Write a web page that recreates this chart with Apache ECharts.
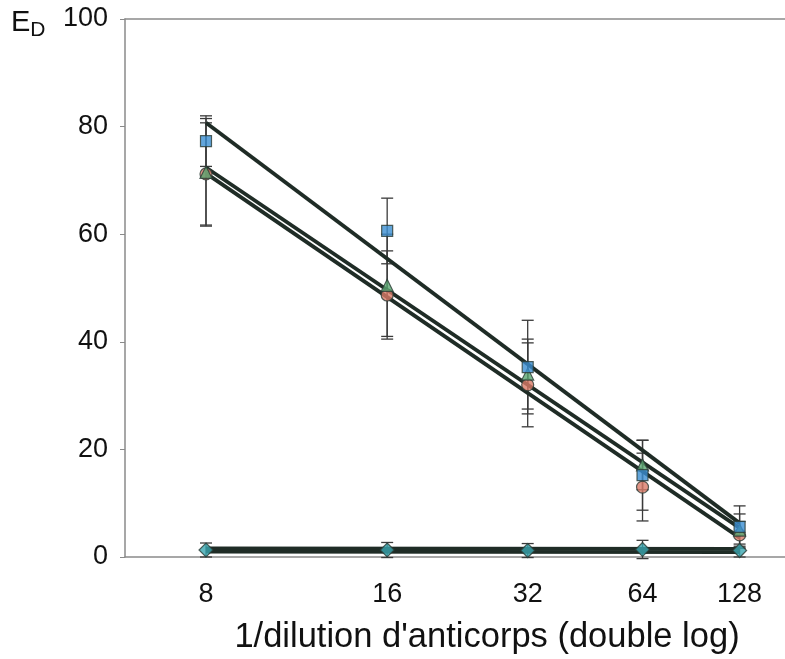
<!DOCTYPE html>
<html>
<head>
<meta charset="utf-8">
<script src="https://cdn.jsdelivr.net/npm/echarts@6/dist/echarts.min.js"></script>
<style>html,body{margin:0;padding:0;background:#fff}#c{width:785px;height:659px}</style>
</head>
<body>
<div id="c"></div>
<script>
// ---- data ----
const dilutions = [8, 16, 32, 64, 128];
const yTicks = [0, 20, 40, 60, 80, 100];

const blueVals  = [77.3, 60.6, 35.3, 15.2, 5.6];
const blueErr   = [4.7, 6.1, 8.7, 6.5, 3.9];
const greenVals = [71.5, 50.5, 34.0, 17.1, 5.0];
const greenErr  = [10.0, 9.5, 6.5, 4.6, 3.0];
const redVals   = [71.2, 48.7, 32.0, 13.0, 4.1];
const redErr    = [9.5, 8.2, 7.8, 6.3, 2.5];
const tealVals  = [1.3, 1.3, 1.2, 1.4, 1.2];
const tealErr   = [1.3, 1.4, 1.3, 1.7, 1.2];

// regression lines: values at 8 and at 128
const fitEnds   = [8, 128];
const fitBlue   = [80.7, 6.3];
const fitGreen  = [72.4, 5.4];
const fitRed    = [71.3, 3.6];
const fitTealA  = [1.6, 1.5];
const fitTealB  = [1.0, 0.9];

const xMin = 0.97, xMax = 2.018;
// ---------------------------------------

const tx = v => Math.log(Math.log2(v));
const pts = vals => dilutions.map((d, i) => [tx(d), vals[i]]);
const errPts = (vals, err) => dilutions.map((d, i) => [tx(d), vals[i], err[i]]);
const fitPts = vals => fitEnds.map((d, i) => [tx(d), vals[i]]);

const FONT = 'Liberation Sans';
const axisGrey = '#8a8a8a';
const lineCol = '#1f2c26';

function errSeries(vals, err) {
  return {
    type: 'custom',
    data: errPts(vals, err),
    clip: false,
    z: 2,
    renderItem: function (params, api) {
      const x = api.value(0), y = api.value(1), e = api.value(2);
      const t = api.coord([x, y + e]);
      const b = api.coord([x, y - e]);
      const w = 6;
      const st = { stroke: '#3a3a3a', lineWidth: 1.3 };
      return {
        type: 'group',
        children: [
          { type: 'line', shape: { x1: t[0], y1: t[1], x2: b[0], y2: b[1] }, style: st },
          { type: 'line', shape: { x1: t[0] - w, y1: t[1], x2: t[0] + w, y2: t[1] }, style: st },
          { type: 'line', shape: { x1: b[0] - w, y1: b[1], x2: b[0] + w, y2: b[1] }, style: st }
        ]
      };
    }
  };
}
function fitSeries(vals) {
  return {
    type: 'line', data: fitPts(vals), symbol: 'none', z: 3,
    lineStyle: { color: lineCol, width: 3.8 }
  };
}
function markSeries(vals, symbol, color, size) {
  return {
    type: 'scatter', data: pts(vals), symbol: symbol, symbolSize: size, z: 4,
    itemStyle: { color: color, borderColor: '#2b3b35', borderWidth: 1.2 }
  };
}

const chart = echarts.init(document.getElementById('c'), null, { renderer: 'canvas' });
chart.setOption({
  animation: false,
  backgroundColor: '#fff',
  grid: { left: 125, right: 0, top: 19, bottom: 102 },
  xAxis: [{
    type: 'value', min: xMin, max: xMax,
    axisLine: { show: true, lineStyle: { color: axisGrey, width: 1.5 } },
    axisTick: { show: false, customValues: dilutions.map(tx) },
    splitLine: { show: false },
    axisLabel: {
      customValues: dilutions.map(tx),
      formatter: v => String(Math.round(Math.pow(2, Math.exp(v)))),
      color: '#111', fontFamily: FONT, fontSize: 27, margin: 24
    }
  }, {
    type: 'value', position: 'top', min: xMin, max: xMax,
    axisLine: { show: true, onZero: false, lineStyle: { color: axisGrey, width: 1.5 } },
    axisTick: { show: false }, axisLabel: { show: false }, splitLine: { show: false }
  }],
  yAxis: {
    type: 'value', min: yTicks[0], max: yTicks[yTicks.length - 1], interval: 20,
    axisLine: { show: true, lineStyle: { color: axisGrey, width: 1.5 } },
    axisTick: { show: true, inside: false, length: 5, lineStyle: { color: axisGrey } },
    splitLine: { show: false },
    axisLabel: { color: '#111', fontFamily: FONT, fontSize: 27, margin: 17 }
  },
  graphic: [
    {
      type: 'text', left: 11, top: 8,
      style: {
        rich: {
          e: { fontFamily: FONT, fontSize: 29, fill: '#111' },
          d: { fontFamily: FONT, fontSize: 21, fill: '#111', padding: [16, 0, 0, 0] }
        },
        text: '{e|E}{d|D}'
      }
    },
    {
      type: 'text', x: 487, y: 637,
      style: {
        text: "1/dilution d'anticorps (double log)",
        fontFamily: FONT, fontSize: 34.5, fill: '#111',
        textAlign: 'center', textVerticalAlign: 'middle'
      }
    }
  ],
  series: [
    errSeries(blueVals, blueErr),
    errSeries(greenVals, greenErr),
    errSeries(redVals, redErr),
    errSeries(tealVals, tealErr),
    fitSeries(fitBlue),
    fitSeries(fitGreen),
    fitSeries(fitRed),
    fitSeries(fitTealA),
    fitSeries(fitTealB),
    markSeries(redVals, 'circle', '#d97a68', 12),
    markSeries(greenVals, 'triangle', '#5aa672', 12),
    markSeries(blueVals, 'rect', '#3b8fd2', 11),
    markSeries(tealVals, 'diamond', '#3aa6b0', 14)
  ]
});
</script>
</body>
</html>
